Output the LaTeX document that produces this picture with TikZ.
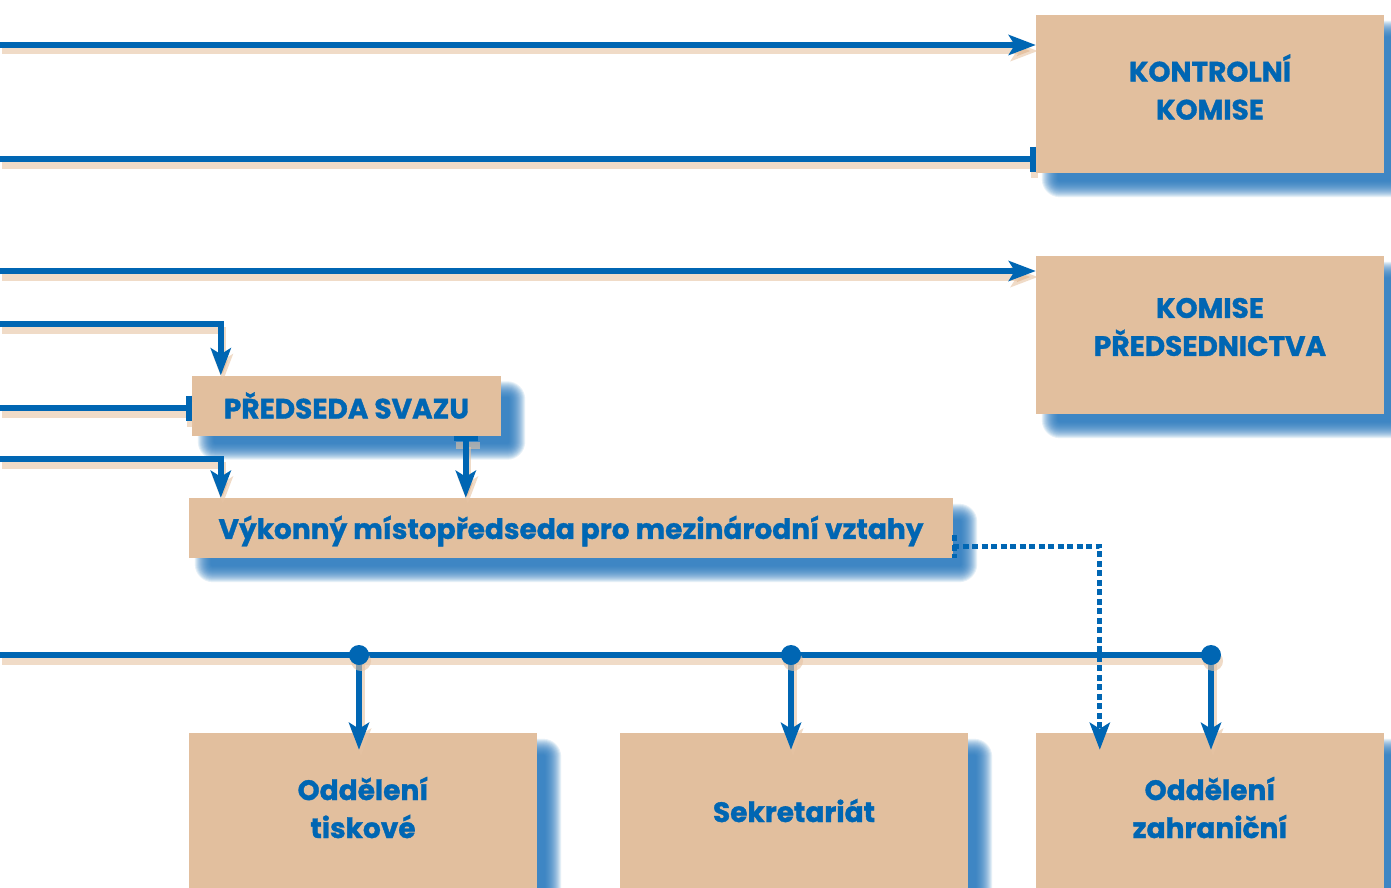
\documentclass[tikz,border=0pt]{standalone}
\usepackage{fontspec}
\setmainfont{Poppins}[BoldFeatures={FakeBold=1.2}]
\usetikzlibrary{arrows.meta,calc}
\definecolor{cblue}{HTML}{0066B3}
\definecolor{boxfill}{HTML}{E2BF9E}
\definecolor{shblue}{HTML}{2478BE}
\definecolor{lineshadow}{HTML}{E6C3A3}
\pgfdeclarelayer{back}
\pgfdeclarelayer{bg}
\pgfsetlayers{back,bg,main}
\begin{document}
\begin{tikzpicture}[x=1pt,y=-1pt,
  boxfont/.style={text=cblue, font=\fontsize{28}{38}\selectfont\bfseries},
  box/.style={fill=boxfill, inner sep=0pt, align=center, boxfont},
  conn/.style={draw=cblue, line width=5.5pt,
    preaction={draw=lineshadow, draw opacity=0.6, line width=7pt,
      transform canvas={shift={(2pt,-6pt)}}}},
  dotconn/.style={draw=cblue, line width=5pt, dash pattern=on 6pt off 3.5pt},
  tip/.style={-{Stealth[length=27pt,width=20pt,inset=6pt]}},
  bartip/.style={-{Bar[width=25pt]}},
]
\clip (0,0) rectangle (1391,888);
\begin{pgfonlayer}{back}
\fill[white] (0,0) rectangle (1391,888);
\end{pgfonlayer}

% boxes
\node[box, minimum width=348pt, minimum height=158pt,
  label={[boxfont, align=center, yshift=7pt]center:KONTROLNÍ\\KOMISE}] (kk) at (1210,94) {};
\node[box, minimum width=348pt, minimum height=158pt,
  label={[boxfont, align=center, yshift=8pt]center:KOMISE\\PŘEDSEDNICTVA}] (kp) at (1210,335) {};
\node[box, minimum width=309pt, minimum height=60pt] (ps) at (346.5,405.5) {PŘEDSEDA SVAZU};
\node[box, minimum width=764pt, minimum height=60pt,
  label={[boxfont, yshift=-3pt]center:Výkonný místopředseda pro mezinárodní vztahy}] (vm) at (571,528) {};
\node[box, minimum width=348pt, minimum height=155pt,
  label={[boxfont, align=center, yshift=3pt]center:Oddělení\\tiskové}] (ot) at (363,810.5) {};
\node[box, minimum width=348pt, minimum height=155pt] (se) at (794,810.5) {Sekretariát};
\node[box, minimum width=348pt, minimum height=155pt,
  label={[boxfont, align=center, yshift=3pt]center:Oddělení\\zahraniční}] (oz) at (1210,810.5) {};

% box shadows (soft)
\begin{pgfonlayer}{bg}
\foreach \n in {kk,kp,ps,vm,ot,se,oz}{
  \foreach \s in {-9,-8,...,7}{
    \pgfmathsetmacro\rr{max(0.5,9-\s)}
    \fill[shblue, opacity=0.11, rounded corners=\rr pt]
      ($(\n.north west)+(15+\s,15+\s)$) rectangle ($(\n.south east)+(15-\s,15-\s)$);
  }
}
\end{pgfonlayer}

% free ends
\coordinate (s1) at (0,45);
\coordinate (s2) at (0,159);
\coordinate (s3) at (0,271);
\coordinate (s4) at (0,324);
\coordinate (s5) at (0,408);
\coordinate (s6) at (0,459);
\coordinate (s7) at (0,655);
\coordinate (j1) at (359,655);
\coordinate (j2) at (791,655);
\coordinate (j3) at (1211,655);

\draw[conn,tip] (s1) -- (s1 -| kk.west);
\draw[conn,bartip] (s2) -- (s2 -| kk.west);
\draw[conn,tip] (s3) -- (s3 -| kp.west);
\draw[conn,tip] (s4) -| ($(ps.north west)+(29,0)$);
\draw[conn,bartip] (s5) -- (s5 -| ps.west);
\draw[conn,tip] (s6) -| ($(vm.north west)+(32,0)$);
\draw[conn,{Bar[width=24pt]}-{Stealth[length=27pt,width=20pt,inset=6pt]}]
  ($(ps.south west)+(274,0)$) -- ($(vm.north west)+(277,0)$);

% distribution line
\draw[conn] (s7) -- (j3);
\draw[conn,tip,shorten >=-17pt] (j1) -- (j1 |- ot.north);
\draw[conn,tip,shorten >=-17pt] (j2) -- (j2 |- se.north);
\draw[conn,tip,shorten >=-17pt] (j3) -- (j3 |- oz.north);

% dotted link
\draw[dotconn] ($(vm.east)+(1,7)$) -- ($(vm.east)+(1,30)$);
\draw[dotconn,-{Stealth[length=27pt,width=20pt,inset=6pt]},shorten >=-17pt]
  ($(vm.east)+(0,18)$) -| ($(oz.north west)+(64,0)$);

% junction dots
\foreach \j in {j1,j2,j3}{
  \fill[lineshadow, opacity=0.6] ($(\j)+(2,6)$) circle (10pt);
  \fill[cblue] (\j) circle (10pt);
}
\end{tikzpicture}
\end{document}
